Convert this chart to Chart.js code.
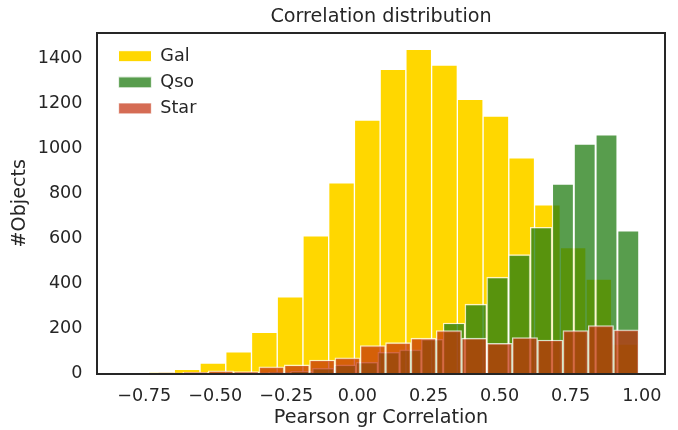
<!DOCTYPE html>
<html>
<head>
<meta charset="utf-8">
<script src="https://cdn.jsdelivr.net/npm/chart.js@4.4.1/dist/chart.umd.min.js"></script>
<style>
  html, body { margin: 0; padding: 0; background: #ffffff; }
  #wrap { width: 678px; height: 430px; }
</style>
</head>
<body>
<div id="wrap"><canvas id="chart" width="678" height="430"></canvas></div>
<script>
// Histogram counts of the g-r Pearson correlation, 20 bins per class.
// Each class has its own bin range: [left edge of first bin, right edge of last bin].
const galRange  = [-0.825, 0.985];
const qsoRange  = [-0.541, 0.991];
const starRange = [-0.792, 0.990];

const galCounts  = [1, 4, 19, 46, 96, 183, 341, 612, 847, 1126, 1352, 1441, 1370, 1218, 1144, 958, 750, 560, 420, 131];
const qsoCounts  = [1, 3, 4, 6, 10, 23, 38, 50, 94, 105, 152, 224, 308, 428, 528, 650, 843, 1021, 1062, 635];
const starCounts = [1, 3, 5, 12, 8, 30, 38, 60, 70, 124, 137, 157, 191, 157, 134, 160, 149, 191, 213, 194];

const xTicks = [-0.75, -0.5, -0.25, 0, 0.25, 0.5, 0.75, 1.0];
const yTicks = [0, 200, 400, 600, 800, 1000, 1200, 1400];

const INK = '#262626';
const FONT = 'DejaVu Sans';

// bin centres from a bin range and its counts
function binPoints(range, counts) {
  const w = (range[1] - range[0]) / counts.length;
  return counts.map((c, i) => ({ x: range[0] + (i + 0.5) * w, y: c }));
}

// axis limits with 5% margins around the data, like the usual histogram default
const dataMin = Math.min(galRange[0], qsoRange[0], starRange[0]);
const dataMax = Math.max(galRange[1], qsoRange[1], starRange[1]);
const span = dataMax - dataMin;
const xMin = dataMin - 0.05 * span;
const xMax = dataMax + 0.05 * span;
const yMax = 1.05 * Math.max(...galCounts, ...qsoCounts, ...starCounts);

const fmtX = v => (v < 0 ? '\u2212' : '') + Math.abs(v).toFixed(2);

// one x scale per class so each histogram gets its own bar width
function extraX(position, showBorder) {
  return {
    type: 'linear', position, min: xMin, max: xMax, offset: false, display: showBorder,
    grid: { display: false, drawTicks: false, offset: false },
    ticks: { display: false },
    border: { display: showBorder, color: INK, width: 2, z: 1 },
    afterFit: s => { s.height = 0; }
  };
}

// places the legend inside the axes, upper left
const legendInset = {
  id: 'legendInset',
  beforeDraw(chart) {
    const lg = chart.legend;
    lg.left = chart.chartArea.left + 13;
    lg.top = chart.chartArea.top + 5.9;
  }
};

Chart.defaults.font.family = FONT;
Chart.defaults.color = INK;

new Chart(document.getElementById('chart'), {
  type: 'bar',
  data: {
    datasets: [
      {
        label: 'Gal', data: binPoints(galRange, galCounts), xAxisID: 'x', order: 3,
        backgroundColor: '#FFD700', borderColor: 'rgba(255,255,255,1)', borderWidth: 1
      },
      {
        label: 'Qso', data: binPoints(qsoRange, qsoCounts), xAxisID: 'xq', order: 2,
        backgroundColor: 'rgba(32,124,17,0.75)', borderColor: 'rgba(255,255,255,0.75)', borderWidth: 1.3
      },
      {
        label: 'Star', data: binPoints(starRange, starCounts), xAxisID: 'xs', order: 1,
        backgroundColor: 'rgba(195,45,12,0.7)', borderColor: 'rgba(255,255,255,0.75)', borderWidth: 1.3
      }
    ]
  },
  options: {
    responsive: false,
    animation: false,
    devicePixelRatio: 1,
    grouped: false,
    barPercentage: 1,
    categoryPercentage: 1,
    layout: { padding: { left: 0, right: 13, top: 0, bottom: 0 } },
    scales: {
      x: {
        type: 'linear', position: 'bottom', min: xMin, max: xMax, offset: false,
        grid: { display: false, drawTicks: false, offset: false },
        border: { display: true, color: INK, width: 2, z: 1 },
        afterBuildTicks: s => { s.ticks = xTicks.map(v => ({ value: v })); },
        ticks: { font: { size: 17.6 }, color: INK, padding: 12, maxRotation: 0, autoSkip: false, callback: v => fmtX(v) },
        title: { display: true, text: 'Pearson gr Correlation', font: { size: 19.2 }, color: INK, padding: { top: 0, bottom: 0 } },
        afterFit: s => { s.height = 56.5; }
      },
      xq: extraX('top', true),
      xs: extraX('bottom', false),
      y: {
        type: 'linear', position: 'left', min: 0, max: yMax,
        grid: { display: false, drawTicks: false },
        border: { display: true, color: INK, width: 2, z: 1 },
        afterBuildTicks: s => { s.ticks = yTicks.map(v => ({ value: v })); },
        ticks: { font: { size: 17.6 }, color: INK, padding: 14.5, callback: v => String(v) },
        title: { display: true, text: '#Objects', font: { size: 19.2 }, color: INK, padding: { top: 8.5, bottom: 0 } },
        afterFit: s => { s.width = 97; }
      },
      y2: {
        type: 'linear', position: 'right', min: 0, max: yMax,
        grid: { display: false, drawTicks: false },
        ticks: { display: false },
        border: { display: true, color: INK, width: 2, z: 1 },
        afterFit: s => { s.width = 0; }
      }
    },
    plugins: {
      title: {
        display: true, text: 'Correlation distribution', fullSize: false,
        font: { size: 19.2, weight: 'normal' }, color: INK,
        padding: { top: 5, bottom: 4.96 }
      },
      legend: {
        position: 'chartArea', align: 'start',
        labels: {
          font: { size: 17.6 }, color: INK, boxWidth: 33, boxHeight: 11, padding: 8.5,
          sort: (a, b) => a.datasetIndex - b.datasetIndex
        }
      },
      tooltip: { enabled: false }
    }
  },
  plugins: [legendInset]
});
</script>
</body>
</html>
